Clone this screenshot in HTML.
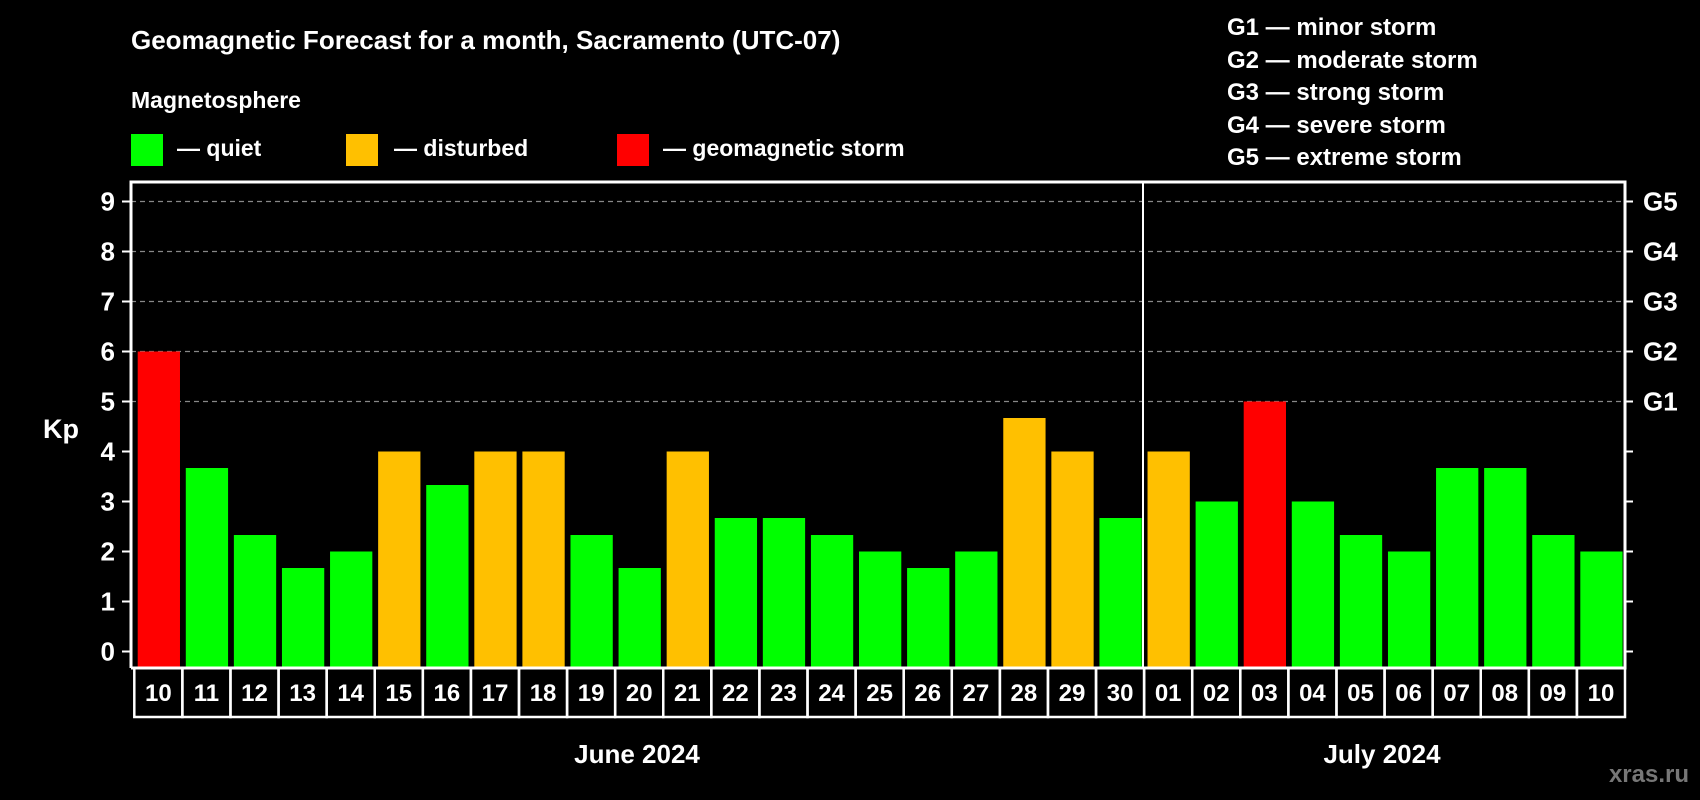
<!DOCTYPE html>
<html><head><meta charset="utf-8"><style>
html,body{margin:0;padding:0;background:#000;}
svg{display:block;font-family:"Liberation Sans",sans-serif;font-weight:bold;}
</style></head><body>
<svg id="c" width="1700" height="800" viewBox="0 0 1700 800">
<rect x="0" y="0" width="1700" height="800" fill="#000"/>
<text x="131" y="49" fill="#fff" font-size="26">Geomagnetic Forecast for a month, Sacramento (UTC-07)</text>
<text x="131" y="108" fill="#fff" font-size="23">Magnetosphere</text>
<rect x="131" y="134" width="32" height="32" fill="#00ff00"/>
<text x="177" y="156" fill="#fff" font-size="23">— quiet</text>
<rect x="346" y="134" width="32" height="32" fill="#ffc000"/>
<text x="394" y="156" fill="#fff" font-size="23">— disturbed</text>
<rect x="617" y="134" width="32" height="32" fill="#ff0000"/>
<text x="663" y="156" fill="#fff" font-size="23">— geomagnetic storm</text>
<g fill="#fff" font-size="24">
<text x="1227" y="35">G1 — minor storm</text>
<text x="1227" y="68">G2 — moderate storm</text>
<text x="1227" y="100">G3 — strong storm</text>
<text x="1227" y="133">G4 — severe storm</text>
<text x="1227" y="165">G5 — extreme storm</text>
</g>
<text x="43" y="438" fill="#fff" font-size="27">Kp</text>
<g id="grid"></g>
<g id="bars"></g>
<g id="frame"></g>
<g id="labels"></g>
<text x="637" y="763" fill="#fff" font-size="26" text-anchor="middle">June 2024</text>
<text x="1382" y="763" fill="#fff" font-size="26" text-anchor="middle">July 2024</text>
<text x="1689" y="782" fill="#777" font-size="24" text-anchor="end">xras.ru</text>
</svg>
<script>
const days = ["10","11","12","13","14","15","16","17","18","19","20","21","22","23","24","25","26","27","28","29","30","01","02","03","04","05","06","07","08","09","10"];
const kpValues = [6,3.67,2.33,1.67,2,4,3.33,4,4,2.33,1.67,4,2.67,2.67,2.33,2,1.67,2,4.67,4,2.67,4,3,5,3,2.33,2,3.67,3.67,2.33,2];
const yTicks = [0,1,2,3,4,5,6,7,8,9];
const gLabels = [[5,"G1"],[6,"G2"],[7,"G3"],[8,"G4"],[9,"G5"]];
const NS="http://www.w3.org/2000/svg";
const L=131,R=1625,T=182,B=668,cellL=134.3,cellW=(R-cellL)/days.length;
const y=v=>651.5-50*v;
const x=i=>cellL+i*cellW;
function mk(tag,attrs,parent){const e=document.createElementNS(NS,tag);for(const k in attrs)e.setAttribute(k,attrs[k]);parent.appendChild(e);return e;}
const grid=document.getElementById('grid'),bars=document.getElementById('bars'),frame=document.getElementById('frame'),labels=document.getElementById('labels');
yTicks.forEach(v=>{
  if(v>=5){const g=mk('line',{x1:L,x2:R,y1:y(v),y2:y(v),stroke:'#888','stroke-width':1.3,'stroke-dasharray':'5,4'},grid);
  
  }
  const t1=mk('line',{x1:122,x2:L,y1:y(v),y2:y(v),stroke:'#fff','stroke-width':2},frame);
  
  
  const t2=mk('line',{x1:R,x2:1633,y1:y(v),y2:y(v),stroke:'#fff','stroke-width':2},frame);
  
  
  const tl=mk('text',{x:115,y:y(v)+9,fill:'#fff','font-size':26,'text-anchor':'end'},labels);
  tl.textContent=v;
  
  
});
gLabels.forEach(([v,s])=>{
  const t=mk('text',{x:1643,y:y(v)+9,fill:'#fff','font-size':26},labels);
  t.textContent=s;
  
  
});
kpValues.forEach((v,i)=>{
  const col=v>=5?'#ff0000':(v>=4?'#ffc000':'#00ff00');
  const b=mk('rect',{x:x(i)+3.4,y:y(v),width:cellW-5.8,height:B-y(v),fill:col},bars);
  
  
  const c=mk('rect',{x:x(i),y:B,width:cellW,height:717-B,fill:'none',stroke:'#fff','stroke-width':2.5},labels);
  
  
  const t=mk('text',{x:x(i)+cellW/2,y:701,fill:'#fff','font-size':24,'text-anchor':'middle'},labels);
  t.textContent=days[i];
  
  
});
const f=mk('path',{d:`M${L},${B}V${T}H${R}V${B}H${L}`,fill:'none',stroke:'#fff','stroke-width':3},frame);


const dv=mk('line',{x1:1143,x2:1143,y1:T,y2:B,stroke:'#fff','stroke-width':2},frame);


</script>
</body></html>
